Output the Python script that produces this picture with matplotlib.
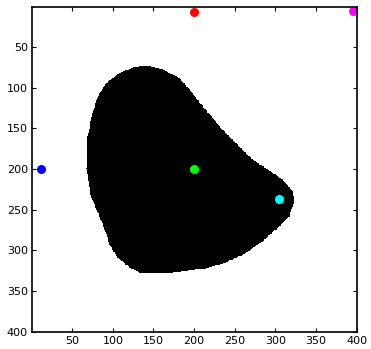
import numpy as np
import matplotlib
matplotlib.use("Agg")
import matplotlib.pyplot as plt
from matplotlib.path import Path

# outline of the black blob (image coords: x right, y down)
blob_x = [141, 161, 182, 194, 211, 231, 247, 272, 309, 321, 323, 317, 301,
          284, 264, 252, 239, 211, 174, 133, 121, 106, 96, 90, 80, 72, 68,
          69, 75, 82, 92, 108, 125]
blob_y = [73, 77, 88, 102, 123, 147, 164, 188, 213, 227, 240, 258, 274,
          289, 303, 309, 315, 323, 327, 327, 321, 309, 293, 274, 250, 230,
          199, 160, 131, 110, 94, 82, 75]

# coloured points
pt_x = [200, 395, 12, 200, 305]
pt_y = [7, 6, 200, 200, 237]
pt_col = ['#ff0000', '#ff00ff', '#0000ff', '#00ff00', '#00ffff']

xticks = [50, 100, 150, 200, 250, 300, 350, 400]
yticks = [50, 100, 150, 200, 250, 300, 350, 400]

# rasterise outline into a 400x400 binary image
n = 400
gx, gy = np.meshgrid(np.arange(1, n + 1), np.arange(1, n + 1))
path = Path(np.column_stack([blob_x, blob_y]))
inside = path.contains_points(np.column_stack([gx.ravel(), gy.ravel()]))
img = np.where(inside.reshape(n, n), 0.0, 1.0)

fig = plt.figure(figsize=(3.71, 3.49), dpi=100)
ax = fig.add_axes([32 / 371, 1 - 332 / 349, 325 / 371, 325 / 349])
ax.imshow(img, cmap='gray', vmin=0, vmax=1, interpolation='nearest',
          extent=(0.5, n + 0.5, n + 0.5, 0.5), aspect='auto')
for x, y, c in zip(pt_x, pt_y, pt_col):
    ax.plot(x, y, 'o', color=c, markersize=6.5, markeredgewidth=0, clip_on=False)

ax.set_xlim(0.5, 400.5)
ax.set_ylim(400.5, 0.5)
ax.set_xticks(xticks)
ax.set_yticks(yticks)
ax.tick_params(direction='in', length=3, width=0.8, top=True, right=True,
               labelsize=8, pad=3)
for s in ax.spines.values():
    s.set_linewidth(1.2)

fig.savefig('out.png', dpi=100)
